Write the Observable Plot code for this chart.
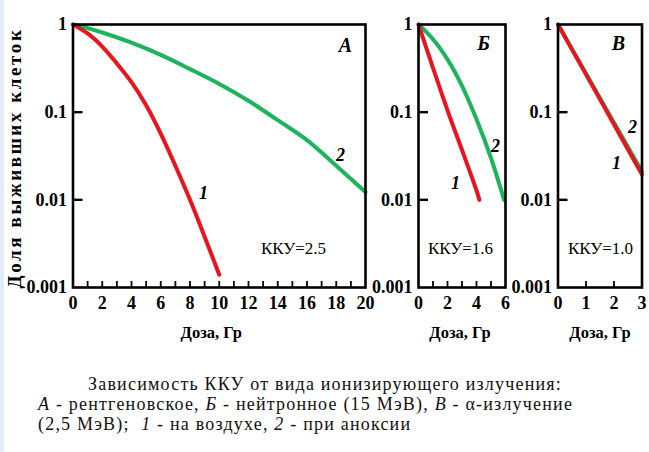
<!DOCTYPE html>
<html><head><meta charset="utf-8">
<script src="https://cdn.jsdelivr.net/npm/d3@7"></script>
<script src="https://cdn.jsdelivr.net/npm/@observablehq/plot@0.6"></script>
<style>
html,body{margin:0;padding:0;background:#fff;}
#wrap{position:relative;width:649px;height:452px;overflow:hidden;background:#fff;font-family:"Liberation Serif","Tinos","Times New Roman","DejaVu Serif",serif;color:#000;}
#strip{position:absolute;left:0;top:0;width:4px;height:452px;background:#e4edf7;}
.p{position:absolute;top:0;}
.cap{position:absolute;font-size:18px;line-height:19px;letter-spacing:1.2px;white-space:nowrap;color:#111;}
#ylab{position:absolute;left:15px;top:158px;transform:translate(-50%,-50%) rotate(-90deg);font-weight:bold;font-size:19px;letter-spacing:2.6px;white-space:nowrap;}
</style></head>
<body>
<div id="wrap">
  <div id="strip"></div>
  <div id="pA" class="p" style="left:0px"></div>
  <div id="pB" class="p" style="left:372px"></div>
  <div id="pC" class="p" style="left:512px"></div>
  <div id="ylab"></div>
  <div class="cap" id="cap1" style="left:88px;top:375px"></div>
  <div class="cap" id="cap2" style="left:38px;top:395px"></div>
  <div class="cap" id="cap3" style="left:38px;top:415px"></div>
</div>
<script>
// ---- data ----
const yTicks = [1, 0.1, 0.01, 0.001];
const yTickLabels = ["1", "0.1", "0.01", "0.001"];
const yInnerTicks = [0.1, 0.01];

// Panel А (X-ray)
const doseA1 = [0, 1, 2, 3, 4, 5, 6, 7, 8, 9, 10];
const survA1 = [1, 0.79, 0.56, 0.36, 0.22, 0.12, 0.057, 0.0245, 0.01, 0.0038, 0.0014];
const doseA2 = [0, 1, 2, 4, 6, 8, 10, 12, 14, 16, 18, 20];
const survA2 = [1, 0.91, 0.81, 0.62, 0.45, 0.31, 0.21, 0.135, 0.081, 0.048, 0.0245, 0.0123];
const xTicksA = [0, 2, 4, 6, 8, 10, 12, 14, 16, 18, 20];
const xMinorA = [1, 2, 3, 4, 5, 6, 7, 8, 9, 10, 11, 12, 13, 14, 15, 16, 17, 18, 19];

// Panel Б (neutrons 15 MeV)
const doseB1 = [0, 1, 2, 3, 4, 4.2];
const survB1 = [1, 0.32, 0.105, 0.037, 0.0128, 0.01];
const doseB2 = [0, 1, 2, 3, 4, 5, 5.9];
const survB2 = [1, 0.68, 0.40, 0.2, 0.083, 0.03, 0.01];
const xTicksB = [0, 2, 4, 6];
const xMinorB = [1, 2, 3, 4, 5];

// Panel В (alpha 2.5 MeV)
const doseC1 = [0, 1.5, 3];
const survC1 = [1, 0.14, 0.0195];
const doseC2 = [0, 1.5, 3];
const survC2 = [1, 0.145, 0.021];
const xTicksC = [0, 1, 2, 3];
const xMinorC = [1, 2];

const panelLetters = ["А", "Б", "В"];
const kkuLabels = ["ККУ=2.5", "ККУ=1.6", "ККУ=1.0"];
const curveLabels = ["1", "2"];
const xLabel = "Доза, Гр";
const yLabel = "Доля выживших клеток";
const caption1 = "Зависимость ККУ от вида ионизирующего излучения:";
const caption2 = "<i>А</i> - рентгеновское, <i>Б</i> - нейтронное (15 МэВ), <i>В</i> - α-излучение";
const caption3 = "(2,5 МэВ);&nbsp; <i>1</i> - на воздухе, <i>2</i> - при аноксии";

const RED = "#e8141e";
const GREEN = "#1db45c";
const FONT = "'Liberation Serif', Tinos, 'Times New Roman', 'DejaVu Serif', serif";

const rows = (xs, ys) => xs.map((x, i) => ({x, y: ys[i]}));

const H = 345, MT = 24, MB = 58;

function panel(o) {
  const fw = o.width - o.ml - o.mr;
  const fh = H - MT - MB;
  const lab = (txt, anchor, dx, dy, extra = {}) =>
    Plot.text([txt], {frameAnchor: anchor, dx, dy, textAnchor: "middle", lineAnchor: "middle",
      fontFamily: FONT, ...extra});
  return Plot.plot({
    width: o.width, height: H,
    marginLeft: o.ml, marginRight: o.mr, marginTop: MT, marginBottom: MB,
    style: {fontFamily: FONT, fontSize: "16px", color: "#000", background: "transparent"},
    x: {domain: o.xDomain},
    y: {type: "log", domain: [0.001, 1]},
    marks: [
      Plot.axisX(o.xTicks, {tickSize: 0, tickPadding: 9, fontWeight: "bold", fontSize: 18, fontFamily: FONT, label: null}),
      Plot.axisY(yTicks, {tickSize: 0, tickPadding: 6, fontWeight: "bold", fontSize: 18, fontFamily: FONT, label: null,
        tickFormat: d => yTickLabels[yTicks.indexOf(d)]}),
      Plot.tickX(o.xMinor, {x: d => d, insetTop: fh - 6, stroke: "#000", strokeWidth: 1.8}),
      Plot.tickY(yInnerTicks, {y: d => d, insetRight: fw - 10, stroke: "#000", strokeWidth: 2.4}),
      Plot.line(o.green, {x: "x", y: "y", stroke: GREEN, strokeWidth: 4, curve: "catmull-rom"}),
      Plot.line(o.red, {x: "x", y: "y", stroke: RED, strokeWidth: 4, curve: "catmull-rom"}),
      lab(xLabel, "bottom", o.xLabelDx, 45, {fontWeight: "bold", fontSize: 16.5}),
      lab(o.letter, "top-right", o.letterPos[0], o.letterPos[1], {fontWeight: "bold", fontStyle: "italic", fontSize: 20}),
      lab(curveLabels[1], o.l2Pos[0], o.l2Pos[1], o.l2Pos[2], {fontWeight: "bold", fontStyle: "italic", fontSize: 18}),
      lab(curveLabels[0], o.l1Pos[0], o.l1Pos[1], o.l1Pos[2], {fontWeight: "bold", fontStyle: "italic", fontSize: 18}),
      lab(o.kku, "top-left", o.kkuPos[0], o.kkuPos[1], {fontSize: 17}),
      Plot.frame({stroke: "#000", strokeWidth: 2.6})
    ]
  });
}

document.getElementById("pA").append(panel({
  width: 382, ml: 72.5, mr: 17, xDomain: [0, 20], xTicks: xTicksA, xMinor: xMinorA,
  red: rows(doseA1, survA1), green: rows(doseA2, survA2),
  xLabelDx: -8, letter: panelLetters[0], letterPos: [-20, 21],
  l2Pos: ["top-right", -25, 131], l1Pos: ["top-left", 130.5, 169],
  kku: kkuLabels[0], kkuPos: [220.5, 224]
}));
document.getElementById("pB").append(panel({
  width: 140, ml: 46, mr: 7, xDomain: [0, 6], xTicks: xTicksB, xMinor: xMinorB,
  red: rows(doseB1, survB1), green: rows(doseB2, survB2),
  xLabelDx: -2, letter: panelLetters[1], letterPos: [-22, 19],
  l2Pos: ["top-right", -10, 122], l1Pos: ["top-left", 37, 159],
  kku: kkuLabels[1], kkuPos: [42, 224]
}));
document.getElementById("pC").append(panel({
  width: 137, ml: 45.5, mr: 7.5, xDomain: [0, 3], xTicks: xTicksC, xMinor: xMinorC,
  red: rows(doseC1, survC1), green: rows(doseC2, survC2),
  xLabelDx: 0, letter: panelLetters[2], letterPos: [-23.5, 19],
  l2Pos: ["top-right", -9.5, 103], l1Pos: ["top-right", -25.5, 139],
  kku: kkuLabels[2], kkuPos: [42.5, 224]
}));

document.getElementById("ylab").textContent = yLabel;
document.getElementById("cap1").textContent = caption1;
document.getElementById("cap2").innerHTML = caption2;
document.getElementById("cap3").innerHTML = caption3;
</script>
</body></html>
